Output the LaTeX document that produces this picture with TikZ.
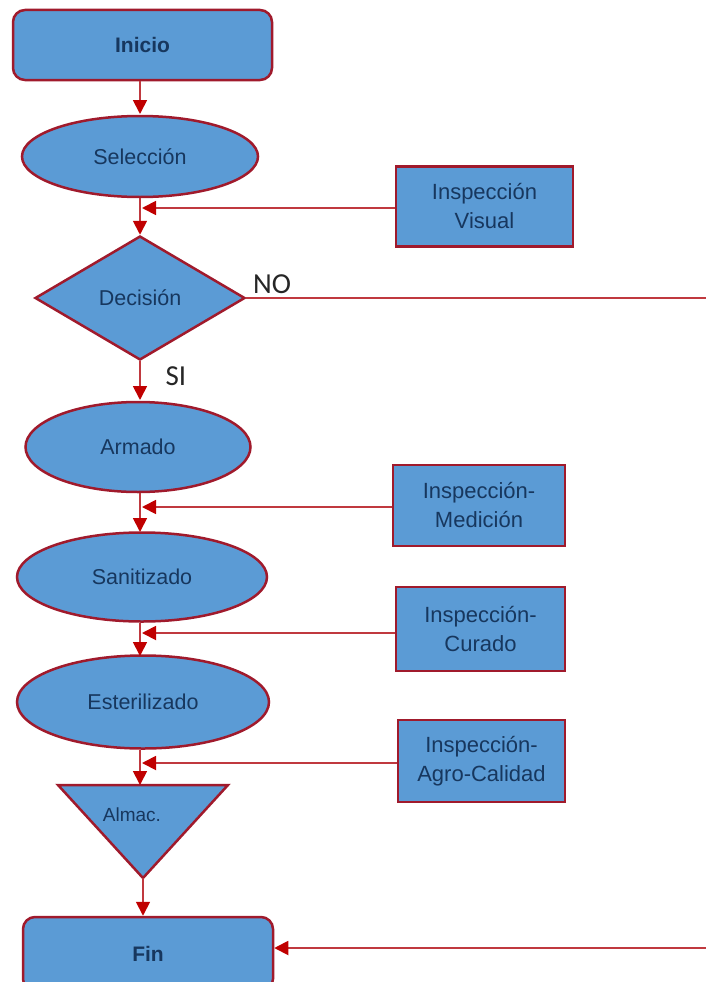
\documentclass[tikz,border=0pt]{standalone}
\usepackage{fontspec}
\setmainfont{Liberation Sans}
\newfontfamily\calib{Carlito}
\usetikzlibrary{shapes.geometric,arrows.meta}
\definecolor{boxblue}{HTML}{5B9BD5}
\definecolor{boxborder}{HTML}{A01A2C}
\definecolor{txtnavy}{HTML}{17375E}
\definecolor{linered}{HTML}{C0393F}
\definecolor{headred}{HTML}{C00000}
\tikzset{
  shapebase/.style={fill=boxblue,draw=boxborder,line width=2.5pt,text=txtnavy,inner sep=0pt,font=\fontsize{21.5}{24}\selectfont},
  term/.style={shapebase,rounded corners=12pt,font=\bfseries\fontsize{21}{24}\selectfont},
  procell/.style={shapebase,ellipse},
  decis/.style={shapebase,diamond},
  inspbox/.style={shapebase,rectangle,align=center,font=\fontsize{22}{29}\selectfont},
  flow/.style={draw=linered,line width=1.8pt,-{Triangle[length=14pt,width=14pt,color=headred]}},
  plainline/.style={draw=linered,line width=1.8pt},
  lbl/.style={font=\calib\fontsize{29}{32}\selectfont,text=black!85}
}
\begin{document}
\begin{tikzpicture}[x=1pt,y=-1pt]
\useasboundingbox (0,0) rectangle (706,982);
\clip (0,0) rectangle (706,982);
% main column
\node[term,minimum width=259pt,minimum height=70pt] (inicio) at (142.5,45) {Inicio};
\node[procell,minimum width=236pt,minimum height=81pt] (sel) at (140,156.5) {Selección};
\node[decis,minimum width=210pt,minimum height=124pt] (dec) at (140,298) {Decisión};
\node[procell,minimum width=225pt,minimum height=90pt] (arm) at (138,447) {Armado};
\node[procell,minimum width=250pt,minimum height=89pt] (san) at (142,577) {Sanitizado};
\node[procell,minimum width=252pt,minimum height=93pt] (est) at (143,702) {Esterilizado};
\coordinate (almtop) at (140,785);
\coordinate (almapex) at (143,878);
\fill[boxblue,draw=boxborder,line width=2.5pt,line join=miter] (58,785) -- (228,785) -- (almapex) -- cycle;
\node[text=txtnavy,font=\fontsize{19}{22}\selectfont,inner sep=0pt] (alm) at (132,815) {Almac.};
\node[term,minimum width=250pt,minimum height=74pt] (fin) at (148,954) {Fin};
% inspection boxes
\node[inspbox,minimum width=177pt,minimum height=80pt] (iv) at (484.5,206.5) {Inspección\\Visual};
\node[inspbox,minimum width=172pt,minimum height=81pt] (im) at (479,505.5) {Inspección-\\Medición};
\node[inspbox,minimum width=169pt,minimum height=84pt] (ic) at (480.5,629) {Inspección-\\Curado};
\node[inspbox,minimum width=167pt,minimum height=82pt] (ia) at (481.5,761) {Inspección-\\Agro-Calidad};
% junction points
\coordinate (j1) at (142,208);
\coordinate (j2) at (142,507);
\coordinate (j3) at (142,633);
\coordinate (j4) at (142,763);
\coordinate (noR) at (706,298);
\coordinate (finR) at (706,948);
% vertical flow
\draw[flow] (inicio.south -| sel.south) -- (sel.south |- 0,114);
\draw[flow] (sel.south) -- (dec.north);
\draw[flow] (dec.south) -- (140,400);
\draw[flow] (arm.south -| dec.south) -- (140,532);
\draw[flow] (san.south -| dec.south) -- (140,656);
\draw[flow] (est.south -| dec.south) -- (almtop);
\draw[flow] (almapex) -- (fin.north -| almapex);
% inspection arrows
\draw[flow] (iv.west |- j1) -- (j1);
\draw[flow] (im.west |- j2) -- (j2);
\draw[flow] (ic.west |- j3) -- (j3);
\draw[flow] (ia.west |- j4) -- (j4);
% NO branch
\draw[plainline] (dec.east) -- (noR);
\draw[flow] (finR) -- (fin.east |- finR);
% labels
\node[lbl,inner sep=0pt] (nolbl) at (272,284) {NO};
\node[lbl,inner sep=0pt] (silbl) at (176,376) {SI};
\end{tikzpicture}
\end{document}
